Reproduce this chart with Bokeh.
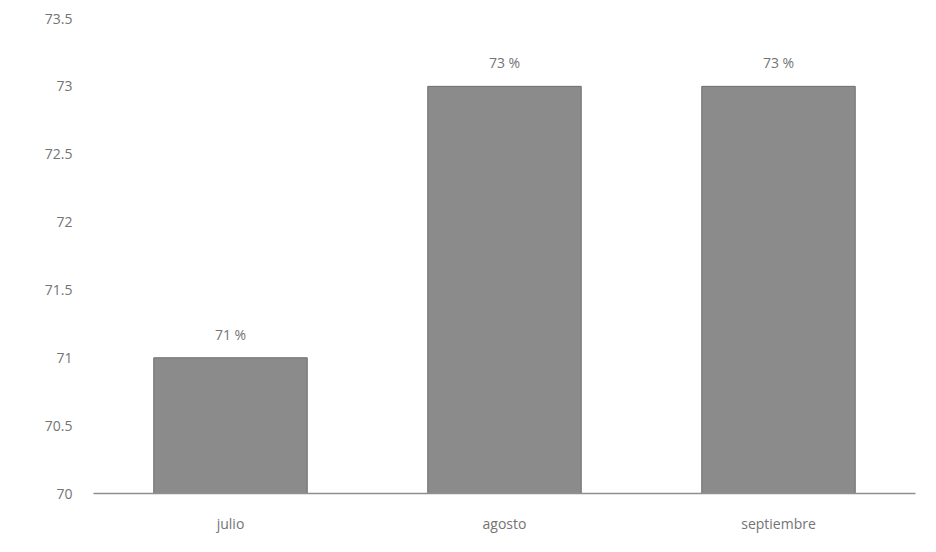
from bokeh.plotting import figure
from bokeh.models import ColumnDataSource, FixedTicker, Range1d, FactorRange
from bokeh.core.properties import value
from bokeh.embed import file_html
from bokeh.resources import INLINE

months = ["julio", "agosto", "septiembre"]
values = [71, 73, 73]
labels = ["71 %", "73 %", "73 %"]
y_ticks = [70, 70.5, 71, 71.5, 72, 72.5, 73, 73.5]
y_tick_labels = ["70", "70.5", "71", "71.5", "72", "72.5", "73", "73.5"]

src = ColumnDataSource(data=dict(m=months, v=values, lab=labels))

FONT = "Open Sans"
TXT = "#747474"

p = figure(x_range=FactorRange(*months, range_padding=0), y_range=Range1d(70, 73.5),
           width=928, height=544, output_backend="svg", toolbar_location=None,
           min_border_left=93, min_border_right=13, min_border_top=18, min_border_bottom=51)

p.vbar(x="m", top="v", bottom=70, width=0.56, source=src,
       fill_color="#8b8b8b", line_color="#6e6e6e", line_width=1)

p.text(x="m", y="v", text="lab", source=src, text_align="center", text_baseline="bottom",
       y_offset=-14, text_font=value(FONT), text_font_size="14px", text_color=TXT)

p.xgrid.visible = False
p.ygrid.visible = False
p.outline_line_color = None

p.yaxis.ticker = FixedTicker(ticks=y_ticks)
p.yaxis.major_label_overrides = {t: s for t, s in zip(y_ticks, y_tick_labels)}
p.yaxis.axis_line_color = None
p.yaxis.major_tick_line_color = None
p.yaxis.minor_tick_line_color = None
p.yaxis.major_label_text_font = FONT
p.yaxis.major_label_text_font_size = "14px"
p.yaxis.major_label_text_color = TXT
p.yaxis.major_label_standoff = 15

p.xaxis.axis_line_color = "#8f8f8f"
p.xaxis.axis_line_width = 1.5
p.xaxis.major_tick_line_color = None
p.xaxis.minor_tick_line_color = None
p.xaxis.major_label_text_font = FONT
p.xaxis.major_label_text_font_size = "14px"
p.xaxis.major_label_text_color = TXT
p.xaxis.major_label_standoff = 14

open("out.html", "w").write(file_html(p, INLINE))
